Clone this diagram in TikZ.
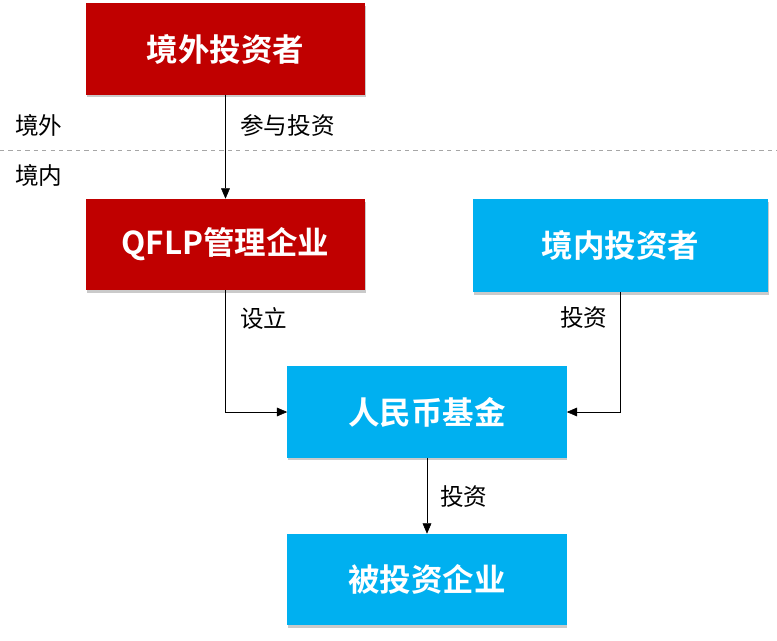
\documentclass[tikz,border=0pt]{standalone}
\usepackage{fontspec}
\usepackage{tikz}
\usetikzlibrary{arrows.meta,positioning,shadows}
\newfontfamily\cjk{Noto Sans CJK SC}
\newfontfamily\cjkbold{Noto Sans CJK SC Bold}
\definecolor{QfRed}{HTML}{C00000}
\definecolor{QfBlue}{HTML}{00B0F0}

\begin{document}
\begin{tikzpicture}[
  x=0.025cm, y=-0.025cm,
  entity/.style={minimum width=6.975cm, minimum height=2.275cm, inner sep=0pt,
    font=\cjkbold\fontsize{22.4}{26}\selectfont, text=white,
    drop shadow={shadow xshift=0.6pt, shadow yshift=-1.8pt, opacity=0.35, fill=black!60}},
  redbox/.style={entity, fill=QfRed},
  bluebox/.style={entity, fill=QfBlue},
  tag/.style={anchor=west, inner sep=0pt, font=\cjk\fontsize{16.8}{20}\selectfont},
  arrow/.style={-{Triangle[length=2.6mm,width=2.2mm]}, thin, color=black}
]
  \useasboundingbox (0,0) rectangle (777,640);

  \node[redbox] (foreign) at (225.5,49) {境外投资者};
  \node[redbox] (qflp) at (225.5,244.5) {QFLP管理企业};
  \node[bluebox, minimum width=7.375cm, minimum height=2.325cm] (domestic) at (620.5,245.5) {境内投资者};
  \node[bluebox] (fund) at (427,412) {人民币基金};
  \node[bluebox] (target) at (427,579.5) {被投资企业};

  % border line
  \draw[dashed, gray!70] (0,150) -- (777,150);
  \node[tag] (abroad) at (15,125) {境外};
  \node[tag] (home) at (15,175) {境内};

  \draw[arrow] (foreign) -- (qflp);
  \draw[arrow] (qflp.south) |- (fund.west);
  \draw[arrow] (domestic.south) |- (fund.east);
  \draw[arrow] (fund) -- (target);

  \node[tag] (joinlbl) at (240,125) {参与投资};
  \node[tag] (setup) at (240,318) {设立};
  \node[tag] (invA) at (560,318) {投资};
  \node[tag] (invB) at (440,497) {投资};
\end{tikzpicture}
\end{document}
